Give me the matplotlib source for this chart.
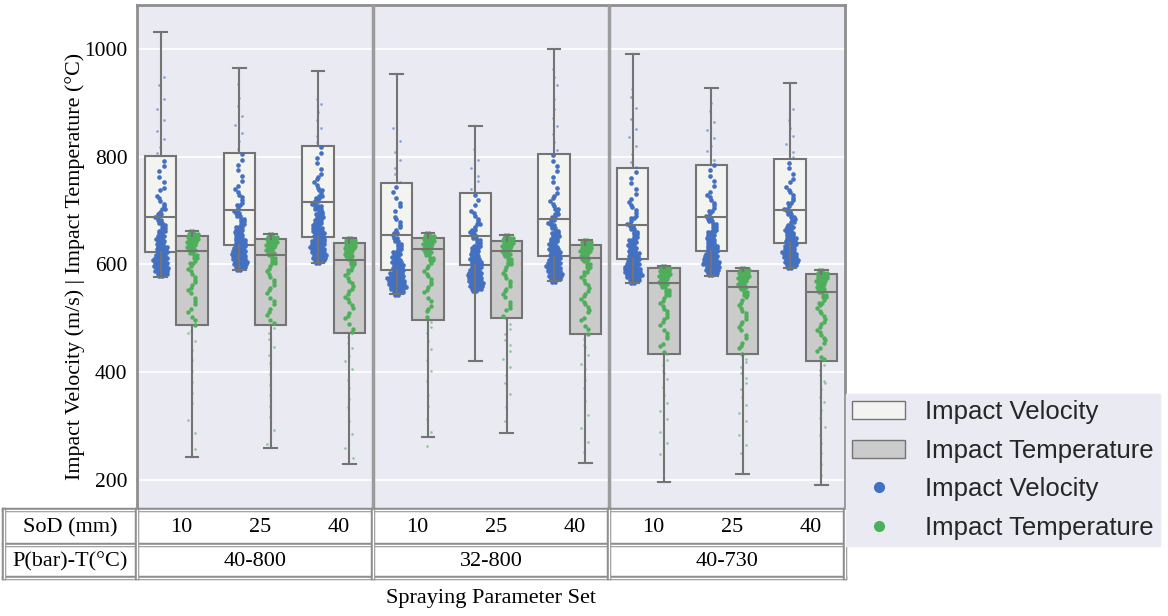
import numpy as np
import matplotlib
matplotlib.use("Agg")
import matplotlib.pyplot as plt
from matplotlib.patches import Patch
from matplotlib.lines import Line2D
from matplotlib.transforms import blended_transform_factory

# === Values ===
groups = ["40-800", "32-800", "40-730"]
sods = ["10", "25", "40"]

# box stats for each (group, SoD) column, left to right
vel_whislo = [577, 590, 603, 546, 421, 569, 566, 579, 593]
vel_q1 = [624, 636, 651, 589, 599, 616, 611, 625, 640]
vel_med = [688, 702, 716, 655, 653, 685, 674, 688, 701]
vel_q3 = [802, 807, 820, 751, 732, 806, 780, 785, 796]
vel_whishi = [1031, 965, 960, 954, 857, 1001, 991, 927, 937]

tmp_whislo = [243, 259, 229, 280, 287, 231, 196, 211, 191]
tmp_q1 = [487, 487, 473, 496, 501, 471, 434, 434, 420]
tmp_med = [626, 618, 609, 629, 625, 612, 565, 558, 549]
tmp_q3 = [653, 647, 640, 649, 644, 636, 593, 587, 582]
tmp_whishi = [662, 657, 650, 658, 655, 646, 598, 594, 589]

# dots: one digit = number of dots in a 5-unit slice
# velocity slices go up from vel_start, temperature slices go down from tmp_start
vel_start = [578, 590, 603, 544, 550, 568, 566, 580, 594]
vel_counts = [
    "2455555544" "4433332322" "2222121111" "1011010101" "0101001010" "0100100010" "0010001000" "01001",
    "2455555544" "4433333222" "2221211111" "1101010101" "0101010010" "0100100100" "0100100001",
    "2455555554" "4444333332" "3322221211" "1111010101" "0101010100" "1001001001" "01",
    "2456666554" "4443333222" "2212111111" "0101101010" "1010010100" "1001000100" "001",
    "2455555544" "4443333322" "2222121111" "1010101010" "0101001001" "0001",
    "2455555544" "4443333332" "2222221211" "1111010101" "0101010101" "0010010010" "0100100010" "0001001001",
    "2456665544" "4433333222" "2221211111" "1101010101" "0101010010" "0100100100" "0100010001" "001",
    "2455665544" "4433333222" "2221211111" "1101010101" "0101001010" "0100100100" "01001",
    "2455555444" "4433332222" "2221211111" "1011010101" "0101001001" "0010010001",
]
tmp_start = [662, 657, 650, 658, 655, 646, 598, 594, 589]
tmp_counts = [
    "2444433322" "2121111111" "1111011101" "1011010110" "0100100010" "0010001000" "1000100000" "1000010000" "01",
    "2444433322" "2211111111" "1110111011" "1011010101" "0010010010" "0010001000" "1000100010" "0001000010",
    "2444433322" "2121111111" "1111111011" "1010110101" "0100101001" "0001001000" "1001000010" "0001000010" "001",
    "2444433322" "2111111111" "1110110111" "0101010100" "1001000100" "0100010000" "1000100001" "0000100001",
    "2444433322" "2211111111" "1111011110" "1101010101" "0101001001" "0010010001" "0000100001",
    "2444433322" "2121111111" "1111111101" "1011010101" "1001001010" "0010010000" "1000010000" "1000010001",
    "2444433322" "2211111111" "1110111101" "1011010101" "1010010010" "0100100100" "0010001000" "1",
    "2444433322" "2111111111" "1111011011" "1010110101" "0101010010" "0100100100" "0010001001",
    "2444433322" "2121111111" "1111111101" "1011010101" "0110100101" "0010010010" "0100100010" "0010001000",
]

VEL = "Impact Velocity"
TMP = "Impact Temperature"
blue = "#4370c0"
green = "#4fae5c"
vel_face = "#f3f3f1"
tmp_face = "#cbcbcb"
edge = "#747474"
lavender = "#eaeaf2"
serif = ["Liberation Serif", "DejaVu Serif"]
sans = ["Liberation Sans", "DejaVu Sans"]

W, H = 1168, 616
px = 9 / 708  # one pixel in x data units
meander = [0, 2.2, 3.6, 2.2, 0, -2.2, -3.6, -2.2]


def expand(start, step, counts):
    # values and small side offsets (pixels) for each dot
    vals, offs = [], []
    for j, ch in enumerate(counts):
        c = int(ch)
        centre = meander[j % len(meander)] * (1.0 if c <= 2 else 0.35)
        for k in range(c):
            vals.append(start + step * j)
            offs.append(centre + (k - (c - 1) / 2) * 3.0 + (0.8 if j % 2 else -0.4))
    return np.array(vals, float), np.array(offs) * px


fig = plt.figure(figsize=(W / 100, H / 100), dpi=100)
ax = fig.add_axes([137 / W, 1 - 510 / H, 708 / W, 505 / H])
ax.set_facecolor(lavender)

# boxes
pos = np.arange(9)
vel_stats = [dict(whislo=vel_whislo[i], q1=vel_q1[i], med=vel_med[i], q3=vel_q3[i],
                  whishi=vel_whishi[i], fliers=[]) for i in pos]
tmp_stats = [dict(whislo=tmp_whislo[i], q1=tmp_q1[i], med=tmp_med[i], q3=tmp_q3[i],
                  whishi=tmp_whishi[i], fliers=[]) for i in pos]
for stats, off, face in [(vel_stats, -0.2, vel_face), (tmp_stats, 0.2, tmp_face)]:
    bp = ax.bxp(stats, positions=pos + off, widths=0.4, capwidths=0.16, patch_artist=True,
                showfliers=False, manage_ticks=False, zorder=1,
                boxprops=dict(facecolor=face, edgecolor=edge, linewidth=1.5),
                whiskerprops=dict(color=edge, linewidth=1.5),
                capprops=dict(color=edge, linewidth=1.5),
                medianprops=dict(color=edge, linewidth=1.5))
    for key in ["whiskers", "caps", "medians"]:
        for art in bp[key]:
            art.set_zorder(3)

# dots, the long tail outside the box is drawn small and faint
for i in pos:
    v, o = expand(vel_start[i], 5, vel_counts[i])
    tail = v > vel_q3[i]
    ax.scatter(i - 0.2 + o[~tail], v[~tail], s=11, color=blue, linewidths=0, zorder=2)
    ax.scatter(i - 0.2 + o[tail], v[tail], s=3.5, color=blue, alpha=0.6, linewidths=0, zorder=2)
    t, o = expand(tmp_start[i], -5, tmp_counts[i])
    tail = t < tmp_q1[i]
    ax.scatter(i + 0.2 + o[~tail], t[~tail], s=10, color=green, linewidths=0, zorder=2)
    ax.scatter(i + 0.2 + o[tail], t[tail], s=3.5, color=green, alpha=0.6, linewidths=0, zorder=2)

ax.set_xlim(-0.5, 8.5)
ax.set_ylim(144, 1082)
ax.set_xticks([])
ax.set_yticks([200, 400, 600, 800, 1000])
ax.yaxis.grid(True, color="white", linewidth=1.3)
ax.set_axisbelow(True)
ax.tick_params(axis="y", length=0, pad=7, labelsize=15.5)
for lab in ax.get_yticklabels():
    lab.set_family(serif)
for side in ["left", "top", "right"]:
    ax.spines[side].set_color("#8e8e8e")
    ax.spines[side].set_linewidth(2)
ax.spines["bottom"].set_visible(False)
for xs in [2.5, 5.5]:
    ax.axvline(xs, color="#9c9c9c", linewidth=2.5, zorder=4)

# table under the plot
gray = "#8e8e8e"
y_top, y_mid, y_bot = 1 - 510 / H, 1 - 545 / H, 1 - 578 / H
x_left = 4 / W
bt_data = blended_transform_factory(ax.transData, fig.transFigure)
bt_axes = blended_transform_factory(ax.transAxes, fig.transFigure)


def dline(xs, ys, transform):
    fig.add_artist(Line2D(xs, ys, transform=transform, color=gray, linewidth=3.2))
    fig.add_artist(Line2D(xs, ys, transform=transform, color="white", linewidth=1.0))


for yy in [y_top, y_mid, y_bot]:
    dline([x_left, 845 / W], [yy, yy], fig.transFigure)
dline([x_left, x_left], [y_bot, y_top], fig.transFigure)
dline([0, 0], [y_bot, y_top], bt_axes)
dline([1, 1], [y_bot, y_top], bt_axes)
for xs in [2.5, 5.5]:
    dline([xs, xs], [y_bot, y_top], bt_data)

row1 = (y_top + y_mid) / 2
row2 = (y_mid + y_bot) / 2
fig.text(70 / W, row1, "SoD (mm)", ha="center", va="center", fontsize=16, family=serif)
fig.text(70 / W, row2, "P(bar)-T(°C)", ha="center", va="center", fontsize=16, family=serif)
for i in pos:
    ax.text(i + 0.06, row1, sods[i % 3], transform=bt_data, ha="center", va="center",
            fontsize=16, family=serif)
for g, name in enumerate(groups):
    ax.text(3 * g + 1, row2, name, transform=bt_data, ha="center", va="center",
            fontsize=16, family=serif)

fig.text(75 / W, 1 - 266 / H, "Impact Velocity (m/s) | Impact Temperature (°C)",
         rotation=90, ha="center", va="center", fontsize=15.8, family=serif)
fig.text(491 / W, 1 - 599 / H, "Spraying Parameter Set", ha="center", va="center",
         fontsize=16, family=serif)

# legend
handles = [
    Patch(facecolor=vel_face, edgecolor=edge, linewidth=1),
    Patch(facecolor=tmp_face, edgecolor=edge, linewidth=1),
    Line2D([], [], marker="o", linestyle="", color=blue, markersize=7),
    Line2D([], [], marker="o", linestyle="", color=green, markersize=7),
]
leg = fig.legend(handles, [VEL, TMP, VEL, TMP], loc="lower left",
                 bbox_to_anchor=(846 / W, 1 - 546 / H), frameon=True, fancybox=False,
                 facecolor=lavender, edgecolor=lavender, framealpha=1,
                 prop=dict(family=sans, size=18.5), handlelength=2.06, handleheight=0.7,
                 handletextpad=0.78, labelspacing=0.56, borderpad=0.25, borderaxespad=0)
for t in leg.get_texts():
    t.set_color("#262626")

fig.savefig("out.png", dpi=100)
